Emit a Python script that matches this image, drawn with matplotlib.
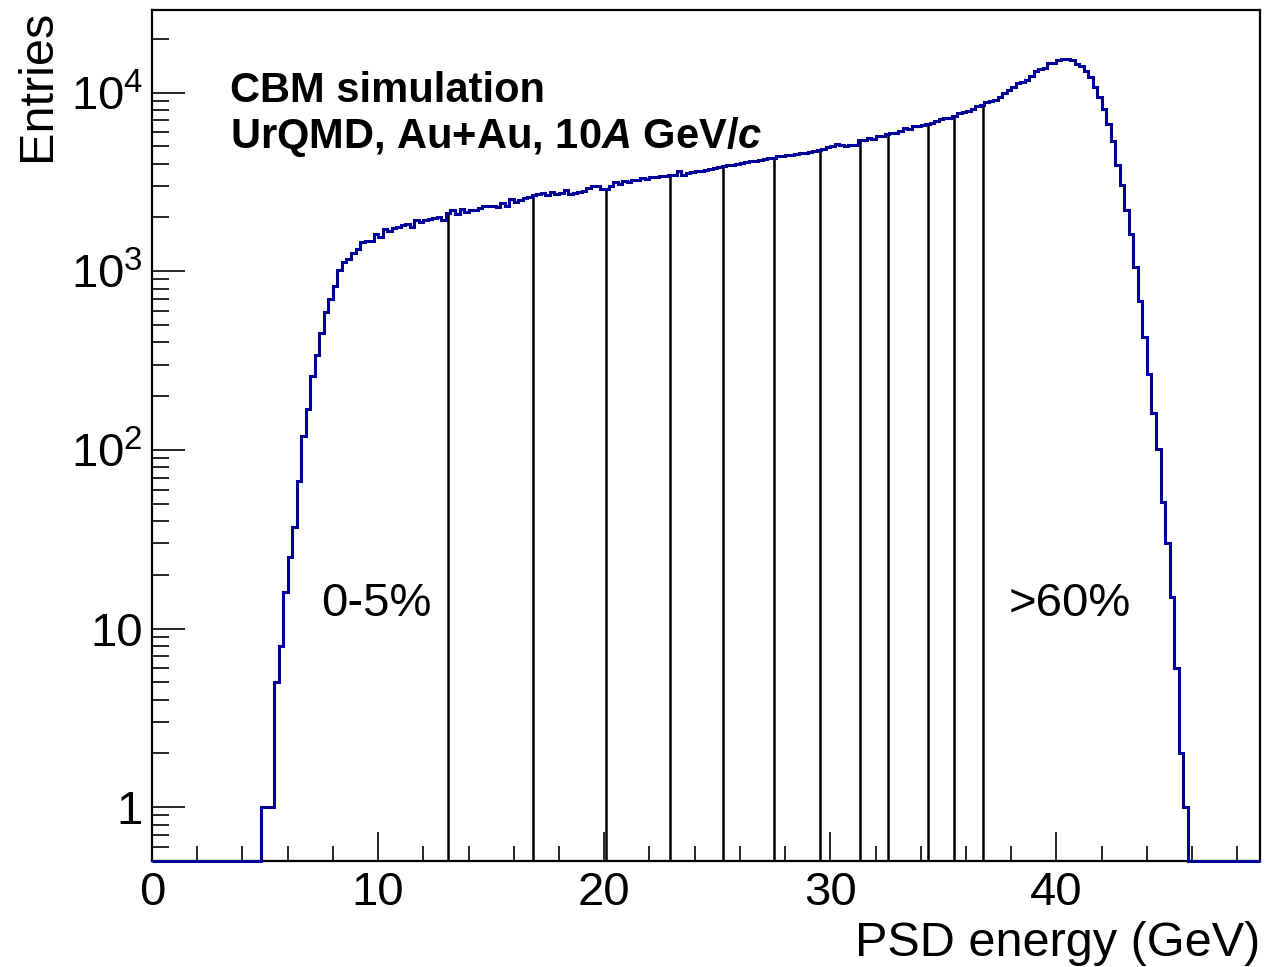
import numpy as np
import matplotlib.pyplot as plt
from matplotlib.ticker import FixedLocator, FixedFormatter, LogLocator, MultipleLocator, NullFormatter

# ROOT-like look: Helvetica-ish fonts, bold italic for the math bits in the label
plt.rcParams['font.family'] = ['Liberation Sans', 'DejaVu Sans']
plt.rcParams['mathtext.fontset'] = 'custom'
plt.rcParams['mathtext.rm'] = 'Liberation Sans'
plt.rcParams['mathtext.it'] = 'Liberation Sans:bold:italic'
plt.rcParams['mathtext.bf'] = 'Liberation Sans:bold'

# Histogram binning (GeV)
e_min, e_max, n_bins = 0.0, 49.0, 245

# Entries per 0.2 GeV bin
psd_counts = [
    0, 0, 0, 0, 0, 0, 0, 0, 0, 0, 0, 0, 0, 0, 0, 0, 0, 0, 0, 0, 0, 0, 0, 0,
    1, 1, 1, 5, 8, 16, 25, 37, 67, 120, 170, 260, 340, 450, 590, 700,
    830, 1020, 1120, 1170, 1270, 1340, 1460, 1480, 1470, 1610,
    1550, 1720, 1680, 1750, 1760, 1810, 1850, 1780, 1930, 1890,
    1930, 1960, 1980, 2000, 1940, 2130, 2200, 2080, 2240, 2150,
    2200, 2210, 2270, 2310, 2320, 2320, 2300, 2420, 2320, 2540,
    2440, 2500, 2560, 2590, 2660, 2690, 2750, 2660, 2780, 2690,
    2750, 2850, 2720, 2740, 2760, 2810, 2940, 3000, 3000, 2900,
    2870, 3000, 3150, 3080, 3200, 3170, 3230, 3260, 3310, 3280,
    3350, 3380, 3420, 3400, 3450, 3450, 3620, 3480, 3530, 3580,
    3620, 3660, 3700, 3730, 3790, 3850, 3880, 3950, 3930, 4000,
    4050, 4070, 4120, 4150, 4200, 4250, 4300, 4280, 4400, 4420,
    4480, 4500, 4560, 4600, 4620, 4680, 4700, 4760, 4850, 4950,
    5000, 5150, 5120, 5040, 5060, 5120, 5420, 5400, 5570, 5500,
    5700, 5720, 5900, 5920, 5950, 6130, 6320, 6250, 6490, 6500,
    6550, 6650, 6770, 6950, 7100, 7220, 7250, 7440, 7710, 7800,
    7910, 8110, 8390, 8570, 8810, 8950, 9100, 9440, 9950, 10300,
    10760, 11320, 11520, 11830, 12450, 13150, 13560, 13790, 14650, 14700,
    15150, 15420, 15500, 15150, 14520, 14150, 13150, 12220, 10760, 9440,
    8110, 6710, 5345, 3945, 3034, 2212, 1609, 1062, 686, 430,
    266, 160, 101, 51, 30, 15, 6, 2, 1,
    0, 0, 0, 0, 0, 0, 0, 0, 0, 0, 0, 0, 0, 0, 0, 0,
]

# Centrality class boundaries (5% steps up to 60%), in GeV
cut_energies = [13.08, 16.84, 20.07, 22.90, 25.27, 27.51, 29.52,
                31.33, 32.55, 34.32, 35.47, 36.73]

# Class labels and where they sit (GeV, entries)
class_labels = ['0-5%', '>60%']
class_label_x = [7.5, 37.9]
class_label_y = [11.7, 11.7]

x_ticks = [0, 10, 20, 30, 40]
y_ticks = [1, 10, 100, 1000, 10000]
y_tick_labels = ['1', '10', '$10^{2}$', '$10^{3}$', '$10^{4}$']
y_min, y_max = 0.5, 2.9e4

edges = np.linspace(e_min, e_max, n_bins + 1)
counts = np.array(psd_counts, dtype=float)
bin_w = (e_max - e_min) / n_bins

fig = plt.figure(figsize=(12.67, 9.67), dpi=100)
ax = fig.add_axes([152 / 1267, 1 - 861 / 967, (1260 - 152) / 1267, (861 - 10) / 967])
ax.set_yscale('log')
ax.set_xlim(e_min, e_max)
ax.set_ylim(y_min, y_max)

# vertical lines at the class boundaries, up to the histogram
for e in cut_energies:
    top = counts[int((e - e_min) / bin_w)]
    ax.plot([e, e], [y_min, top], color='black', lw=1.8, zorder=2)

# empty bins sit on the bottom of the frame like in ROOT
ax.stairs(np.clip(counts, y_min, None), edges, baseline=None,
          color='#000099', lw=2.2, zorder=3, clip_on=False)

for lab, lx, ly in zip(class_labels, class_label_x, class_label_y):
    ax.text(lx, ly, lab, fontsize=34, va='baseline', ha='left')

fig.text(230 / 1267, 1 - 102 / 967, 'CBM simulation',
         fontsize=30, fontweight='bold', va='baseline')
fig.text(230 / 1267, 1 - 148 / 967, 'UrQMD, Au+Au, 10$A$ GeV/$c$',
         fontsize=30, fontweight='bold', va='baseline')

# Axes, ticks
ax.xaxis.set_major_locator(FixedLocator(x_ticks))
ax.xaxis.set_minor_locator(MultipleLocator(2))
ax.yaxis.set_major_locator(FixedLocator(y_ticks))
ax.yaxis.set_major_formatter(FixedFormatter(y_tick_labels))
ax.yaxis.set_minor_locator(LogLocator(base=10, subs=np.arange(2, 10)))
ax.yaxis.set_minor_formatter(NullFormatter())

ax.tick_params(which='both', direction='in', top=False, right=False,
               labelsize=34, width=1.2)
ax.xaxis.set_tick_params(which='major', length=21, pad=7.5)
ax.xaxis.set_tick_params(which='minor', length=10.5)
ax.yaxis.set_tick_params(which='major', length=24, pad=6.5)
ax.yaxis.set_tick_params(which='minor', length=12)

for sp in ax.spines.values():
    sp.set_linewidth(1.6)

ax.set_xlabel('PSD energy (GeV)', fontsize=35, loc='right')
ax.xaxis.set_label_coords(1.0, -0.0706)
ax.set_ylabel('Entries', fontsize=35, loc='top')
ax.yaxis.set_label_coords(-0.083, 1.0)

fig.savefig('out.png', dpi=100)
